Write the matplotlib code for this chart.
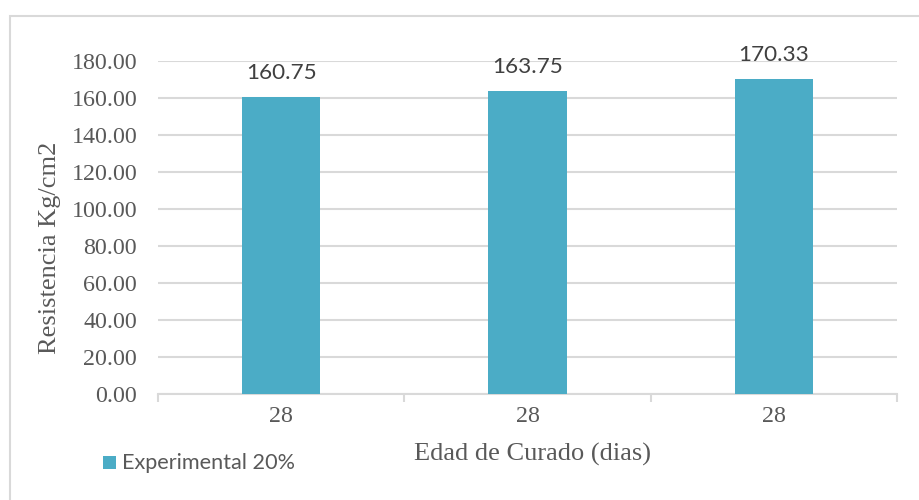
import matplotlib
matplotlib.use("Agg")
import matplotlib.pyplot as plt
from matplotlib.patches import Rectangle
from matplotlib.ticker import FixedLocator

categories = ["28", "28", "28"]
values = [160.75, 163.75, 170.33]
series_name = "Experimental 20%"
y_ticks = [0, 20, 40, 60, 80, 100, 120, 140, 160, 180]

W, H = 919, 500
DPI = 100
bar_color = "#4BACC6"
grid_color = "#D9D9D9"
text_color = "#595959"
serif = "Liberation Serif"
sans = "Lato"

fig = plt.figure(figsize=(W / DPI, H / DPI), dpi=DPI)

# outer chart frame
fig.patches.append(Rectangle((10 / W, -0.1), 1.2, (H - 16) / H + 0.1,
                             transform=fig.transFigure, fill=False,
                             edgecolor=grid_color, linewidth=1.5))

left, right, top, bottom = 158, 897, 61, 394
ax = fig.add_axes([left / W, (H - bottom) / H, (right - left) / W, (bottom - top) / H])

x = list(range(len(values)))
bars = ax.bar(x, values, width=0.317, color=bar_color, zorder=3, label=series_name)

ax.set_xlim(-0.5, len(values) - 0.5)
ax.set_ylim(0, 180)
ax.set_yticks(y_ticks)
ax.set_yticklabels([f"{v:.2f}" for v in y_ticks], fontfamily=serif, fontsize=17.3, color=text_color)
ax.yaxis.grid(True, color=grid_color, linewidth=1.5, zorder=0)
ax.tick_params(axis="y", length=0, pad=15)

ax.set_xticks(x)
ax.set_xticklabels(categories, fontfamily=serif, fontsize=17.3, color=text_color)
ax.tick_params(axis="x", which="major", length=0, pad=9)
ax.xaxis.set_minor_locator(FixedLocator([i - 0.5 for i in range(len(values) + 1)]))
ax.tick_params(axis="x", which="minor", length=6, width=1.5, color=grid_color, direction="out")

for side in ("top", "right", "left"):
    ax.spines[side].set_visible(False)
ax.spines["bottom"].set_color(grid_color)
ax.spines["bottom"].set_linewidth(1.5)

for b, v in zip(bars, values):
    ax.annotate(f"{v:.2f}", (b.get_x() + b.get_width() / 2, v), xytext=(0, 10),
                textcoords="offset points", ha="center", va="bottom",
                fontfamily=sans, fontsize=16.2, color="#404040")

fig.text(50 / W, 1 - 248 / H, "Resistencia Kg/cm2", rotation=90, ha="center", va="center",
         fontfamily=serif, fontsize=19, color=text_color)
fig.text(533 / W, 1 - 454 / H, "Edad de Curado (dias)", ha="center", va="center",
         fontfamily=serif, fontsize=19, color=text_color)

# legend entry
fig.patches.append(Rectangle((103 / W, 1 - 469 / H), 13 / W, 13 / H,
                             transform=fig.transFigure, facecolor=bar_color, edgecolor="none"))
fig.text(122 / W, 1 - 463 / H, series_name, ha="left", va="center",
         fontfamily=sans, fontsize=15.6, color=text_color)

fig.savefig("out.png", dpi=DPI)
